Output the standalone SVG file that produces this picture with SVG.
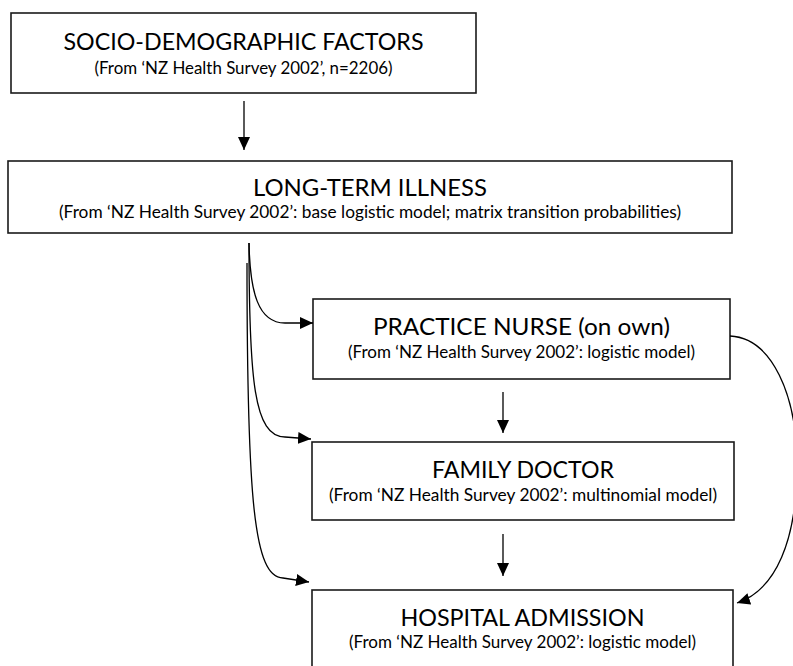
<svg xmlns="http://www.w3.org/2000/svg" width="793" height="666" viewBox="0 0 793 666">
<style>
.box{fill:#fff;stroke:#1a1a1a;stroke-width:1.6}
.t{font-family:Lato,"Open Sans","Liberation Sans",sans-serif;fill:#000;text-anchor:middle}
.h{font-size:23.5px}
.s{font-size:16.5px}
.c{fill:none;stroke:#000;stroke-width:1.3}
</style>
<defs>
<marker id="ah" markerUnits="userSpaceOnUse" markerWidth="14" markerHeight="12" refX="13" refY="6" orient="auto">
<path d="M0,0 L13,6 L0,12 Z" fill="#000"/>
</marker>
</defs>
<rect width="793" height="666" fill="#fff"/>
<g id="socio">
<rect class="box" x="11" y="13" width="465" height="80"/>
<text class="t h" x="243.5" y="50" textLength="360" lengthAdjust="spacingAndGlyphs">SOCIO-DEMOGRAPHIC FACTORS</text>
<text class="t s" x="243.5" y="74" textLength="298" lengthAdjust="spacingAndGlyphs">(From ‘NZ Health Survey 2002’, n=2206)</text>
</g>
<g id="illness">
<rect class="box" x="8" y="161" width="724" height="72"/>
<text class="t h" x="370" y="196" textLength="234" lengthAdjust="spacingAndGlyphs">LONG-TERM ILLNESS</text>
<text class="t s" x="370" y="218" textLength="622" lengthAdjust="spacingAndGlyphs">(From ‘NZ Health Survey 2002’: base logistic model; matrix transition probabilities)</text>
</g>
<g id="nurse">
<rect class="box" x="313" y="299" width="417" height="80"/>
<text class="t h" x="521.5" y="335" textLength="297" lengthAdjust="spacingAndGlyphs">PRACTICE NURSE (on own)</text>
<text class="t s" x="521.5" y="358" textLength="347" lengthAdjust="spacingAndGlyphs">(From ‘NZ Health Survey 2002’: logistic model)</text>
</g>
<g id="doctor">
<rect class="box" x="312" y="442" width="422" height="78"/>
<text class="t h" x="523" y="478" textLength="182" lengthAdjust="spacingAndGlyphs">FAMILY DOCTOR</text>
<text class="t s" x="523" y="501" textLength="388" lengthAdjust="spacingAndGlyphs">(From ‘NZ Health Survey 2002’: multinomial model)</text>
</g>
<g id="hospital">
<rect class="box" x="312" y="590" width="421" height="100"/>
<text class="t h" x="522.5" y="626" textLength="244" lengthAdjust="spacingAndGlyphs">HOSPITAL ADMISSION</text>
<text class="t s" x="522.5" y="648" textLength="347" lengthAdjust="spacingAndGlyphs">(From ‘NZ Health Survey 2002’: logistic model)</text>
</g>
<g id="connectors">
<path class="c" d="M244,101 L244,150" marker-end="url(#ah)"/>
<path class="c" d="M503,392 L503,433" marker-end="url(#ah)"/>
<path class="c" d="M503,534 L503,576" marker-end="url(#ah)"/>
<path class="c" d="M249,243 C250,292 258,323 285,323 L313,323" marker-end="url(#ah)"/>
<path class="c" d="M249,243 C249,380 254,437 285,437 L311,439" marker-end="url(#ah)"/>
<path class="c" d="M247,263 C247,500 254,578 283,578 L309,582" marker-end="url(#ah)"/>
<path class="c" d="M730,336 C772,338 797,395 797,465 C797,540 776,590 737,603" marker-end="url(#ah)"/>
</g>
</svg>
